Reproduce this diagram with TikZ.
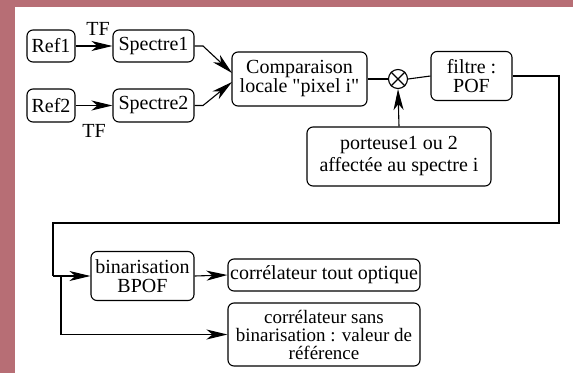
\documentclass[tikz,border=0pt]{standalone}
\usepackage{fontspec}
\setmainfont{Liberation Serif}[Ligatures=TeXReset]
\usetikzlibrary{arrows.meta,shapes.misc}
\definecolor{frame}{RGB}{183,110,117}
\begin{document}
\begin{tikzpicture}[x=1pt,y=-1pt,
  every node/.style={font=\fontsize{20}{20}\selectfont},
  box/.style={draw,line width=1.1pt,rounded corners=6pt,inner sep=0pt,align=center},
  conn/.style={line width=1.1pt},
  arr/.style={conn,-{Stealth[length=21pt,width=10pt,inset=6pt]}}]
\useasboundingbox (0,0) rectangle (573,373);
\fill[frame] (0,0) rectangle (573,373);
\fill[white] (15,7) rectangle (573,373);
% nodes
\node[box,minimum width=48pt,minimum height=32pt] (ref1) at (51,46) {Ref1};
\node[box,minimum width=81pt,minimum height=32pt] (sp1) at (153.5,46) {Spectre1};
\node[box,minimum width=48pt,minimum height=33pt] (ref2) at (51,105.5) {Ref2};
\node[box,minimum width=81pt,minimum height=33pt] (sp2) at (153.5,105.5) {Spectre2};
\node (tf1) at (98,29) {TF};
\node (tf2) at (94,131) {TF};
\node[box,minimum width=135pt,minimum height=54pt] (comp) at (299.5,79) {Comparaison\\[-1pt]locale "pixel i"};
\node[draw,circle,line width=1.1pt,minimum size=19pt,inner sep=0pt] (ot) at (398,79) {};
\draw[line width=1.1pt] (ot.north west) -- (ot.south east) (ot.north east) -- (ot.south west);
\node[box,minimum width=81pt,minimum height=49pt] (filt) at (471.5,76) {filtre :\\[-1pt]POF};
\node[box,minimum width=184pt,minimum height=59pt] (port) at (399,156.5) {porteuse1 ou 2\\[2pt]affectée au spectre i};
\node[box,minimum width=103pt,minimum height=49pt] (bin) at (142.5,276) {binarisation\\[-1pt]BPOF};
\node[box,minimum width=192pt,minimum height=32pt] (cto) at (324,275) {corrélateur tout optique};
\node[box,minimum width=192pt,minimum height=63pt,font=\fontsize{19}{18}\selectfont] (csb) at (324,334.5) {corrélateur sans\\binarisation : valeur de\\référence};
% coordinates
\coordinate (k1) at (203,46);
\coordinate (k2) at (203,105.5);
\coordinate (c1) at (232,73);
\coordinate (c2) at (232,82);
\coordinate (r1) at (559,76);
\coordinate (r2) at (559,223);
\coordinate (l1) at (53,223);
\coordinate (l2) at (53,276);
\coordinate (b1) at (61,276);
\coordinate (b2) at (61,334.5);
% connectors
\draw[arr] (ref1) -- (sp1);
\draw[arr] (ref2) -- (sp2);
\draw[arr] (sp1.east) -- (k1) -- (c1);
\draw[arr] (sp2.east) -- (k2) -- (c2);
\draw[conn] (comp.east) -- (ot.west);
\draw[conn] (ot.east) -- (filt.west);
\draw[arr] (port.north) -- (ot.south);
\draw[conn] (filt.east) -- (r1) -- (r2) -- (l1) -- (l2);
\draw[arr] (l2) -- (bin.west);
\draw[conn] (b1) -- (b2);
\draw[arr] (b2) -- (csb.west);
\draw[arr] (bin.east) -- (cto.west);
\end{tikzpicture}
\end{document}
